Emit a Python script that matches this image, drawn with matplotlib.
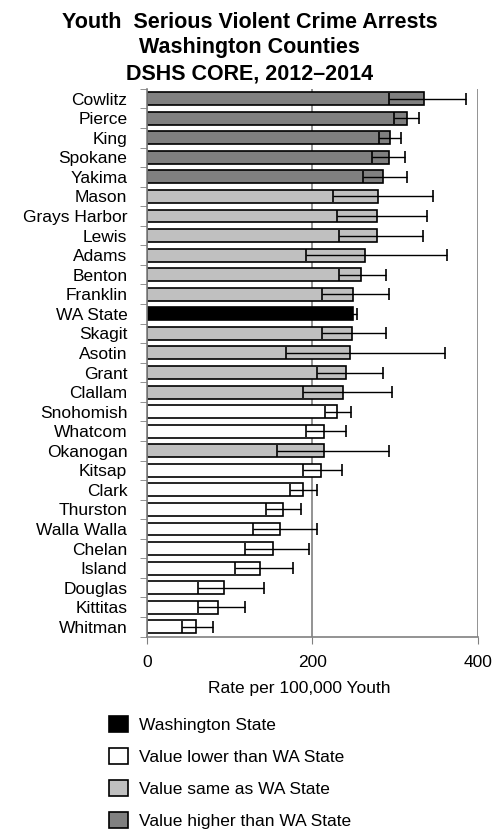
import numpy as np
import matplotlib.pyplot as plt
from matplotlib.patches import Patch

plt.rcParams['font.family'] = ['Liberation Sans', 'DejaVu Sans']

counties = ["Cowlitz", "Pierce", "King", "Spokane", "Yakima", "Mason",
            "Grays Harbor", "Lewis", "Adams", "Benton", "Franklin", "WA State",
            "Skagit", "Asotin", "Grant", "Clallam", "Snohomish", "Whatcom",
            "Okanogan", "Kitsap", "Clark", "Thurston", "Walla Walla", "Chelan",
            "Island", "Douglas", "Kittitas", "Whitman"]
rates = [334, 314, 294, 292, 285, 279, 278, 278, 263, 259, 249, 249,
         248, 245, 241, 237, 230, 214, 214, 210, 188, 164, 161, 152,
         137, 93, 86, 60]
ci_low = [292, 298, 280, 272, 261, 225, 230, 232, 192, 232, 212, 244,
          212, 168, 206, 188, 215, 192, 157, 188, 173, 144, 128, 119,
          106, 62, 62, 42]
ci_high = [385, 329, 307, 312, 314, 345, 338, 333, 362, 289, 292, 254,
           289, 360, 285, 296, 247, 241, 292, 236, 206, 186, 205, 196,
           177, 142, 119, 80]
# h = higher, s = same, l = lower, w = state
groups = ["h", "h", "h", "h", "h", "s", "s", "s", "s", "s", "s", "w",
          "s", "s", "s", "s", "l", "l", "s", "l", "l", "l", "l", "l",
          "l", "l", "l", "l"]

colors = {"w": "black", "l": "white", "s": "#c0c0c0", "h": "#808080"}
legend_labels = {"w": "Washington State", "l": "Value lower than WA State",
                 "s": "Value same as WA State", "h": "Value higher than WA State"}

fig = plt.figure(figsize=(4.99, 8.31), dpi=100)
ax = fig.add_axes([0.294, 0.234, 0.6645, 0.659])

y = np.arange(len(counties))
rates_a = np.array(rates)
xerr = [rates_a - np.array(ci_low), np.array(ci_high) - rates_a]

ax.barh(y, rates, height=0.66, color=[colors[g] for g in groups],
        edgecolor='black', linewidth=1.2, zorder=2)
ax.errorbar(rates, y, xerr=xerr, fmt='none', ecolor='black',
            elinewidth=1.0, capsize=4.5, capthick=1.2, zorder=3)

ax.set_xlim(0, 400)
ax.set_ylim(len(counties) - 0.5, -0.5)
ax.set_xticks([0, 200, 400])
ax.set_yticks(y)
ax.set_yticklabels(counties, fontsize=12.5)
ax.set_yticks(np.arange(len(counties) + 1) - 0.5, minor=True)
ax.tick_params(axis='y', which='major', length=0, pad=14)
ax.tick_params(axis='y', which='minor', length=5, color='#808080', direction='out')
ax.tick_params(axis='x', labelsize=12.5, length=5, color='#808080', pad=8)
ax.xaxis.grid(True, color='#808080', linewidth=1.2, zorder=0)
ax.set_axisbelow(True)

for side in ['top', 'right']:
    ax.spines[side].set_visible(False)
for side in ['left', 'bottom']:
    ax.spines[side].set_color('#808080')
    ax.spines[side].set_linewidth(1.2)

ax.set_xlabel("Rate per 100,000 Youth", fontsize=12.5)
ax.xaxis.set_label_coords(0.46, -0.082)

fig.suptitle("Youth  Serious Violent Crime Arrests\nWashington Counties\nDSHS CORE, 2012\u20132014",
             fontsize=15.5, fontweight='bold', y=0.986, linespacing=1.3)

handles = [Patch(facecolor=colors[k], edgecolor='black', linewidth=1.2)
           for k in ["w", "l", "s", "h"]]
fig.legend(handles, [legend_labels[k] for k in ["w", "l", "s", "h"]],
           loc='upper left', bbox_to_anchor=(0.205, 0.147),
           frameon=False, fontsize=12.5, handlelength=1.1, handleheight=1.1,
           labelspacing=0.85, handletextpad=0.6, borderaxespad=0)

fig.savefig("out.png", dpi=100)
